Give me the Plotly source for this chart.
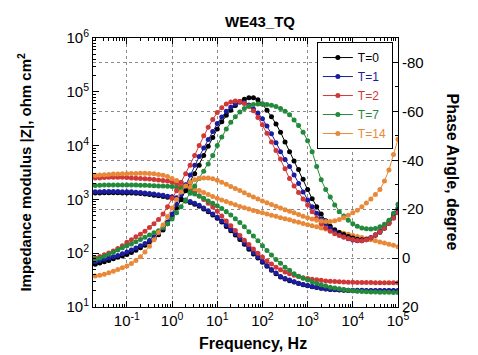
import numpy as np
import plotly.graph_objects as go

# Frequency sweep (10 points per decade, 0.02 Hz .. 100 kHz)
freq = np.logspace(-1.7, 5.0, 68)

labels = ["T=0", "T=1", "T=2", "T=7", "T=14"]
colors = ["#000000", "#1c1ca0", "#d03838", "#238a3c", "#e8893a"]

# Impedance modulus |Z| (ohm cm^2)
z_t0 = [1320, 1320, 1330, 1330, 1330, 1330, 1320, 1320, 1315, 1300, 1285, 1260, 1230, 1200, 1165, 1135, 1100,
        1070,
        1025, 980, 935, 875, 815, 745, 665, 590, 515, 448,
        380, 315, 262, 218, 180, 147, 119, 97, 81, 68,
        57, 48, 41.5, 36, 33, 30.8, 29, 27.2, 26, 24.9,
        23.8, 23, 22.2, 21.7, 21.2, 20.9, 20.6, 20.4, 20.2, 20.1,
        20, 20, 20, 20, 20, 20, 20, 20, 20, 20]
z_t1 = [1380, 1380, 1396, 1396, 1396, 1396, 1380, 1380, 1380, 1365, 1349, 1318, 1288, 1259, 1216, 1189, 1148,
        1122,
        1072, 1023, 977, 912, 851, 776, 692, 617, 537, 468,
        398, 331, 275, 229, 191, 155, 126, 102, 85, 71,
        59, 50, 43, 37, 34, 31.6, 29.5, 27.5, 26.3, 25.1,
        24, 23.2, 22.4, 21.9, 21.4, 21.1, 20.9, 20.7, 20.4, 20.4,
        20.4, 20.4, 20.3, 20.3, 20.3, 20.3, 20.3, 20.3, 20.3, 20.3]
z_t2 = [2512, 2512, 2541, 2570, 2570, 2570, 2570, 2541, 2512, 2483, 2455, 2427, 2399, 2344, 2291, 2239, 2188,
        2089,
        1950, 1820, 1660, 1514, 1349, 1175, 1000, 851, 724, 603,
        490, 398, 324, 263, 214, 174, 145, 120, 100, 85,
        72, 63, 55, 49, 44.7, 41.7, 38.9, 36.7, 35.1, 33.9,
        32.7, 32, 31.3, 30.5, 30.2, 29.9, 29.5, 29.2, 28.8, 28.8,
        28.5, 28.5, 28.5, 28.5, 28.2, 28.2, 28.2, 28.2, 28.2, 28.2]
z_t7 = [1820, 1841, 1862, 1862, 1862, 1862, 1862, 1862, 1862, 1854, 1841, 1828, 1811, 1799, 1778, 1770, 1758,
        1738,
        1660, 1585, 1479, 1380, 1259, 1148, 1047, 933, 851, 759,
        676, 589, 513, 437, 372, 309, 251, 209, 170, 138,
        112, 93, 76, 65, 55, 48, 41.7, 37.2, 34.3, 31.6,
        29.5, 27.5, 26, 24.5, 23.4, 22.6, 21.9, 21.1, 20.4, 20,
        19.7, 19.5, 19.3, 19.1, 19.05, 18.8, 18.8, 18.7, 18.6, 18.6]
z_t14 = [2818, 2851, 2884, 2917, 2951, 2965, 2985, 3006, 3020, 3041, 3055, 3055, 3034, 2985, 2917, 2818, 2661,
         2455,
         2239, 2042, 1862, 1718, 1585, 1462, 1349, 1230, 1135, 1047,
         977, 912, 851, 794, 741, 700, 661, 624, 589, 562,
         537, 507, 484, 457, 437, 417, 394, 376, 355, 339,
         324, 309, 295, 282, 269, 257, 245, 234, 224, 214,
         204, 195, 186, 178, 170, 162, 155, 146, 140, 132]

# Phase angle (degree)
p_t0 = [2.5, 2, 1.5, 1, 0.3, -0.3, -0.9, -1.5, -2.3, -3.2, -4.2, -5.3, -6.5, -8, -9.5, -11.5, -14,
        -17,
        -20.5, -24, -27.5, -31, -34.5, -38, -42, -45.7, -49.3, -52.8,
        -55.8, -58.4, -60.5, -62.4, -64, -65, -65.6, -65.6, -64.8, -63,
        -60.5, -57.8, -54.8, -51.5, -47.5, -43.5, -39.7, -36.2, -32.2, -28,
        -24.3, -21, -18, -15.3, -13, -11.6, -10.5, -9.6, -8.8, -8.2,
        -7.7, -7.5, -7.7, -8.3, -9.3, -10.6, -12.2, -14.2, -16.5, -19]
p_t1 = [1.5, 1, 0.5, 0, -0.5, -1.1, -1.8, -2.5, -3.3, -4.1, -5, -6, -7.2, -8.6, -10.2, -12.2, -14.8,
        -18,
        -22, -26, -30, -34, -38, -41.5, -45, -48.5, -51.8, -55,
        -57.7, -60, -61.7, -63, -63.7, -63.6, -62.6, -61, -59.3, -57,
        -54, -50.8, -47.2, -43.5, -40.3, -37.5, -34, -30.5, -27, -23.8,
        -21, -18.3, -16, -14, -12.2, -10.7, -9.5, -8.6, -7.9, -7.4,
        -7.1, -7.1, -7.5, -8.3, -9.5, -11, -12.8, -15, -17.6, -20.5]
p_t2 = [0, -0.7, -1.4, -2.1, -2.9, -3.9, -5, -6.5, -7.5, -8.7, -9.8, -11, -12.5, -14, -15.8, -18, -21,
        -24.5,
        -27.5, -31, -34.5, -38, -42, -46, -50, -53.5, -56.7, -59.5,
        -61.5, -63, -63.8, -64.2, -64, -63.2, -62, -60.2, -57.5, -54.5,
        -51, -47.5, -44, -40.5, -36.5, -32.5, -29.5, -26.8, -24.2, -21.7,
        -19, -16.3, -14, -12.3, -11, -10, -9.2, -8.6, -8, -7.6,
        -7.2, -7.1, -7.5, -8.3, -9.5, -10.8, -12.3, -14.2, -16.3, -18.5]
p_t7 = [0.5, 0, -0.8, -1.6, -2.4, -3.3, -4.2, -5, -5.8, -6.7, -7.6, -8.5, -9.4, -10.4, -11.2, -12.5, -14,
        -16,
        -18.5, -21, -23.5, -26.5, -29.5, -32.5, -35.5, -38.5, -42, -46,
        -49.5, -52.8, -55.5, -57.8, -59.7, -61.2, -62.2, -62.8, -63, -63,
        -62.8, -62.5, -62, -61.2, -60, -58.6, -56.5, -54.2, -51.5, -48,
        -43.5, -37.5, -32, -28, -25, -21.7, -19, -17.2, -15.5, -14,
        -13, -12.3, -12, -11.9, -12.1, -12.8, -13.8, -15.5, -18.3, -22]
p_t14 = [7.3, 7, 6.6, 6, 5.4, 4.7, 3.9, 3.2, 2.2, 1, -0.5, -2.5, -4.8, -7.5, -10.5, -13.5, -17,
         -20.5,
         -24, -27, -29.5, -31, -32, -32.6, -32.8, -32.8, -32.4, -31.8,
         -31, -30.2, -29.3, -28.5, -27.6, -26.7, -25.8, -25, -24.2, -23.3,
         -22.6, -21.9, -21.2, -20.5, -19.8, -19.2, -18.5, -17.8, -17.1, -16.5,
         -16, -15.5, -15.2, -15, -15, -15.3, -15.8, -16.5, -17.5, -18.5,
         -19.6, -21, -22.5, -24.2, -26, -28, -31.5, -36, -42.4, -48.6]

x_tickvals = [0.1, 1, 10, 100, 1000, 10000, 100000]
x_ticktext = ["10<sup>-1</sup>", "10<sup>0</sup>", "10<sup>1</sup>", "10<sup>2</sup>",
              "10<sup>3</sup>", "10<sup>4</sup>", "10<sup>5</sup>"]
y_tickvals = [10, 100, 1000, 10000, 100000, 1000000]
y_ticktext = ["10<sup>1</sup>", "10<sup>2</sup>", "10<sup>3</sup>", "10<sup>4</sup>",
              "10<sup>5</sup>", "10<sup>6</sup>"]
phase_tickvals = [-80, -60, -40, -20, 0, 20]
phase_ticktext = ["-80", "-60", "-40", "-20", "0", "20"]

z_series = [z_t0, z_t1, z_t2, z_t7, z_t14]
p_series = [p_t0, p_t1, p_t2, p_t7, p_t14]

FONT = "Liberation Sans, Arial, sans-serif"

fig = go.Figure()
for lab, col, z in zip(labels, colors, z_series):
    fig.add_trace(go.Scatter(
        x=freq, y=z, mode="lines+markers", yaxis="y",
        name=f'<span style="color:{col}">{lab}</span>',
        line=dict(color=col, width=1), marker=dict(color=col, size=5),
        legendgroup=lab, showlegend=True))
for lab, col, p in zip(labels, colors, p_series):
    fig.add_trace(go.Scatter(
        x=freq, y=p, mode="lines+markers", yaxis="y2",
        name=lab, line=dict(color=col, width=1), marker=dict(color=col, size=5),
        legendgroup=lab, showlegend=False))

fig.update_layout(
    width=478, height=355,
    margin=dict(l=93, r=80, t=38, b=48),
    paper_bgcolor="white", plot_bgcolor="white",
    font=dict(family=FONT, size=15, color="black"),
    showlegend=True,
    legend=dict(x=0.734, y=0.985, xanchor="left", yanchor="top",
                bgcolor="white", bordercolor="black", borderwidth=1,
                font=dict(family=FONT, size=12), tracegroupgap=0, itemwidth=30),
    xaxis=dict(type="log", range=[-1.75, 5.0],
               tickmode="array", tickvals=x_tickvals, ticktext=x_ticktext,
               ticks="inside", ticklen=6, tickcolor="black",
               showline=True, linecolor="black", linewidth=1, mirror="ticks",
               showgrid=True, gridcolor="#8a8a8a", gridwidth=1, griddash="dot",
               zeroline=False,
               minor=dict(ticks="inside", ticklen=3, tickcolor="black",
                          tickmode="linear", dtick="D1", showgrid=False)),
    yaxis=dict(type="log", range=[1, 6],
               tickmode="array", tickvals=y_tickvals, ticktext=y_ticktext,
               ticks="inside", ticklen=6, tickcolor="black",
               showline=True, linecolor="black", linewidth=1,
               showgrid=False, zeroline=False,
               minor=dict(ticks="inside", ticklen=3, tickcolor="black",
                          tickmode="linear", dtick="D1", showgrid=False)),
    yaxis2=dict(overlaying="y", side="right", range=[20, -90],
                tickmode="array", tickvals=phase_tickvals, ticktext=phase_ticktext,
                ticks="inside", ticklen=6, tickcolor="black",
                showline=True, linecolor="black", linewidth=1,
                showgrid=True, gridcolor="#8a8a8a", gridwidth=1, griddash="dot",
                zeroline=False,
                minor=dict(ticks="inside", ticklen=3, tickcolor="black",
                           dtick=10, showgrid=False)),
    annotations=[
        dict(text="<b>WE43_TQ</b>", xref="paper", yref="paper", x=0.548, y=1.063,
             showarrow=False, font=dict(size=15), xanchor="center", yanchor="middle"),
        dict(text="<b>Impedance modulus |Z|, ohm cm<sup>2</sup></b>", xref="paper", yref="paper",
             x=-0.226, y=0.50, textangle=-90, showarrow=False, font=dict(size=15),
             xanchor="center", yanchor="middle"),
        dict(text="<b>Phase Angle, degree</b>", xref="paper", yref="paper",
             x=1.18, y=0.50, textangle=90, showarrow=False, font=dict(size=16),
             xanchor="center", yanchor="middle"),
        dict(text="<b>Frequency, Hz</b>", xref="paper", yref="paper",
             x=0.525, y=-0.1375, showarrow=False, font=dict(size=16),
             xanchor="center", yanchor="middle"),
    ],
)

fig.write_html("out.html",
               config={"displayModeBar": False},
               post_script="document.body.style.margin='0';document.body.style.overflow='hidden';")
